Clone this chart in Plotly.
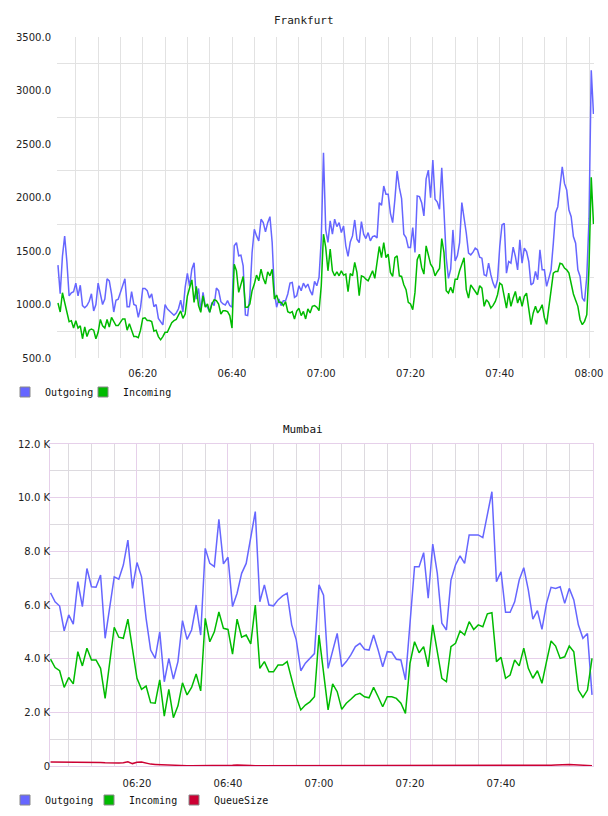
import plotly.graph_objects as go
import pandas as pd

# ---------------- data ----------------
DAY = "2013-05-01"

# Frankfurt, sampled every 30 s from 06:01:00
FRA_OUTGOING = [
    1368, 1100, 1450, 1640, 1400, 1080, 1110, 1120, 1200, 1080,
    1180, 990, 970, 990, 1030, 1100, 940, 1000, 1200, 1110,
    1000, 1050, 1240, 1220, 1100, 930, 1040, 1050, 1120, 1180,
    1240, 980, 980, 1120, 1000, 990, 880, 970, 1150, 1150,
    1130, 1060, 1100, 980, 1000, 870, 840, 810, 1000, 960,
    940, 920, 900, 920, 960, 1040, 930, 1160, 1290, 1170,
    1330, 1390, 1050, 1150, 942, 1113, 990, 975, 927, 1020,
    990, 1154, 1129, 1026, 1005, 995, 1036, 990, 975, 1548,
    1579, 1455, 1461, 1362, 902, 896, 1082, 1486, 1703, 1641,
    1595, 1797, 1765, 1678, 1765, 1821, 1579, 1113, 975, 1051,
    990, 1036, 1036, 1098, 1200, 1206, 1067, 1082, 1175, 1129,
    1200, 1160, 1191, 1129, 1088, 1216, 1175, 1253, 1610, 2418,
    1700, 1580, 1781, 1657, 1797, 1728, 1765, 1672, 1734, 1548,
    1449, 1585, 1641, 1790, 1610, 1579, 1775, 1657, 1616, 1672,
    1595, 1635, 1641, 1623, 1952, 1927, 2107, 2030, 2030, 1852,
    1765, 1983, 2247, 2092, 1989, 1657, 1626, 1533, 1533, 1719,
    1486, 2014, 2008, 1952, 1828, 2175, 2256, 1998, 2350, 1983,
    1958, 1890, 2278, 1874, 1439, 1244, 1330, 1697, 1408, 1455,
    1579, 1952, 1820, 1666, 1480, 1464, 1489, 1526, 1511, 1442,
    1433, 1278, 1268, 1386, 1278, 1200, 1153, 1231, 1542, 1743,
    1759, 1293, 1402, 1386, 1536, 1449, 1324, 1604, 1386, 1526,
    1495, 1402, 1184, 1200, 1309, 1231, 1511, 1324, 1324, 1169,
    1247, 1324, 1573, 1858, 1914, 2132, 2287, 2132, 2070, 1883,
    1821, 1635, 1573, 1324, 1262, 1060, 1029, 1262, 1800, 3190,
    2780,
]
FRA_INCOMING = [
    1014, 930, 1110, 1020, 900, 840, 849, 780, 849, 780,
    800, 680, 790, 700, 760, 770, 760, 680, 740, 860,
    800, 780, 860, 790, 880, 840, 803, 803, 834, 865,
    865, 760, 820, 760, 700, 700, 690, 760, 870, 875,
    850, 850, 840, 750, 760, 700, 670, 700, 740, 740,
    780, 830, 849, 860, 900, 940, 870, 910, 1080, 1170,
    1230, 1020, 1169, 990, 927, 1082, 975, 1005, 927, 1005,
    1045, 1036, 1005, 911, 942, 942, 933, 896, 780, 1377,
    1315, 1113, 1191, 1262, 975, 975, 1005, 1129, 1191, 1275,
    1222, 1330, 1244, 1191, 1306, 1268, 1330, 1051, 1088, 1020,
    1020, 990, 1026, 933, 921, 933, 865, 939, 964, 896,
    936, 865, 958, 921, 983, 990, 975, 942, 1175, 1657,
    1533, 1315, 1517, 1315, 1268, 1306, 1268, 1315, 1275, 1284,
    1119, 1290, 1268, 1393, 1300, 1082, 1268, 1259, 1237, 1222,
    1268, 1315, 1244, 1377, 1542, 1439, 1579, 1439, 1470, 1300,
    1262, 1439, 1455, 1268, 1262, 1185, 1138, 1020, 1005, 952,
    1113, 1418, 1470, 1346, 1284, 1548, 1470, 1377, 1346, 1268,
    1306, 1337, 1616, 1486, 1129, 1107, 1160, 1107, 1237, 1237,
    1315, 1368, 1436, 1138, 1060, 1184, 1153, 1116, 1091, 1175,
    1153, 983, 1045, 1020, 967, 992, 1029, 1091, 1200, 1184,
    1060, 967, 1107, 983, 1060, 1122, 1014, 1076, 983, 1076,
    1107, 936, 812, 921, 983, 921, 952, 998, 877, 815,
    967, 1107, 1293, 1309, 1309, 1386, 1377, 1340, 1324, 1293,
    1200, 1098, 1039, 983, 858, 812, 843, 905, 1355, 2190,
    1753,
]

# Mumbai, one value per minute from 06:01, in thousands
MUM_OUTGOING_K = [
    6.45, 6.12, 5.96, 5.04, 5.63, 5.29, 6.87, 5.94, 7.36, 6.68,
    6.66, 7.12, 4.76, 5.90, 7.05, 6.96, 7.49, 8.42, 6.62, 7.58,
    7.05, 5.50, 4.32, 4.01, 5.00, 3.14, 4.01, 3.24, 3.89, 5.42,
    4.72, 5.07, 6.00, 4.88, 8.11, 7.55, 7.43, 9.19, 7.53, 7.78,
    5.94, 6.44, 7.18, 7.55, 8.49, 9.48, 6.12, 6.75, 6.00, 5.97,
    6.19, 6.34, 6.44, 5.26, 4.70, 3.55, 3.83, 4.01, 4.19, 6.75,
    6.37, 3.64, 4.32, 4.94, 3.70, 3.89, 4.14, 4.45, 4.57, 4.35,
    4.32, 4.88, 4.32, 3.70, 4.26, 4.24, 3.98, 3.95, 3.21, 5.40,
    7.43, 7.43, 7.95, 6.25, 8.27, 7.18, 5.32, 5.07, 6.93, 7.49,
    7.83, 7.55, 8.61, 8.61, 8.61, 8.51, 9.36, 10.22, 6.87, 7.24,
    5.73, 5.73, 6.12, 6.93, 7.39, 6.56, 5.47, 5.79, 5.09, 6.06,
    6.66, 6.62, 6.68, 6.06, 6.62, 6.19, 5.26, 4.76, 4.94, 2.65,
]
MUM_INCOMING_K = [
    3.98, 3.67, 3.55, 2.93, 3.30, 3.06, 4.26, 3.73, 4.39, 3.95,
    3.95, 3.64, 2.52, 3.76, 5.17, 4.80, 4.76, 5.47, 4.35, 3.27,
    2.86, 2.98, 2.36, 2.34, 3.21, 1.86, 2.86, 1.80, 2.24, 3.10,
    2.65, 2.93, 3.43, 2.80, 5.50, 4.63, 5.00, 5.74, 5.13, 5.09,
    4.17, 5.47, 4.80, 4.88, 4.55, 6.00, 3.64, 3.89, 3.51, 3.51,
    3.76, 3.76, 3.89, 3.27, 2.58, 2.09, 2.27, 2.39, 2.58, 4.88,
    3.51, 2.09, 3.06, 2.77, 2.11, 2.34, 2.49, 2.65, 2.71, 2.58,
    2.54, 2.93, 2.58, 2.21, 2.58, 2.58, 2.52, 2.34, 1.96, 3.83,
    4.63, 4.22, 4.45, 3.70, 5.26, 4.26, 3.27, 3.14, 4.45, 4.57,
    5.03, 4.88, 5.38, 5.09, 5.26, 5.19, 5.67, 5.71, 3.89, 4.05,
    3.27, 3.39, 3.95, 3.73, 4.39, 3.64, 3.27, 3.55, 3.08, 3.89,
    4.66, 4.47, 4.01, 4.07, 4.47, 4.26, 2.83, 2.56, 2.83, 4.01,
]
MUM_QUEUE_K = [
    0.15, 0.15, 0.14, 0.14, 0.14, 0.13, 0.13, 0.13, 0.14, 0.14,
    0.13, 0.13, 0.12, 0.11, 0.11, 0.11, 0.12, 0.16, 0.09, 0.14,
    0.15, 0.10, 0.07, 0.06, 0.05, 0.05, 0.04, 0.04, 0.03, 0.02,
    0.01, 0.01, 0.01, 0.01, 0.01, 0.01, 0.01, 0.01, 0.01, 0.01,
    0.03, 0.04, 0.04, 0.03, 0.02, 0.01, 0.01, 0.01, 0.01, 0.01,
    0.01, 0.01, 0.01, 0.01, 0.01, 0.01, 0.01, 0.01, 0.01, 0.02,
    0.02, 0.01, 0.02, 0.01, 0.01, 0.01, 0.01, 0.01, 0.01, 0.01,
    0.01, 0.01, 0.01, 0.01, 0.01, 0.01, 0.01, 0.01, 0.01, 0.01,
    0.01, 0.01, 0.01, 0.01, 0.01, 0.01, 0.01, 0.01, 0.01, 0.01,
    0.02, 0.03, 0.03, 0.02, 0.02, 0.01, 0.02, 0.02, 0.01, 0.01,
    0.01, 0.01, 0.01, 0.01, 0.01, 0.01, 0.01, 0.01, 0.01, 0.01,
    0.03, 0.04, 0.05, 0.05, 0.06, 0.05, 0.04, 0.03, 0.01, 0.01,
]

X_TICK_TIMES = ["06:20", "06:40", "07:00", "07:20", "07:40", "08:00"]
FRA_Y_TICKS = [500, 1000, 1500, 2000, 2500, 3000, 3500]
MUM_Y_TICKS = [0, 2000, 4000, 6000, 8000, 10000, 12000]
MUM_Y_LABELS = ["0", "2.0 K", "4.0 K", "6.0 K", "8.0 K", "10.0 K", "12.0 K"]

# ---------------- build ----------------
W, H = 608, 816
C_OUT, C_IN, C_Q = "#6666FF", "#00BB00", "#CC0033"
MONO = "DejaVu Sans Mono"
SANS = "DejaVu Sans"


def px_x(p):
    return p / W


def px_y(p):
    return 1 - p / H


fra_t = pd.date_range(f"{DAY} 06:01:00", periods=len(FRA_OUTGOING), freq="30s")
mum_t = pd.date_range(f"{DAY} 06:01:00", periods=len(MUM_OUTGOING_K), freq="60s")
tickvals = [f"{DAY} {t}:00" for t in X_TICK_TIMES]

fig = go.Figure()

fig.add_trace(go.Scatter(x=fra_t, y=FRA_OUTGOING, mode="lines", line=dict(color=C_OUT, width=1.5),
                         showlegend=False, xaxis="x", yaxis="y"))
fig.add_trace(go.Scatter(x=fra_t, y=FRA_INCOMING, mode="lines", line=dict(color=C_IN, width=1.5),
                         showlegend=False, xaxis="x", yaxis="y"))

fig.add_trace(go.Scatter(x=mum_t, y=[v * 1000 for v in MUM_OUTGOING_K], mode="lines",
                         line=dict(color=C_OUT, width=1.5), showlegend=False, xaxis="x2", yaxis="y2"))
fig.add_trace(go.Scatter(x=mum_t, y=[v * 1000 for v in MUM_INCOMING_K], mode="lines",
                         line=dict(color=C_IN, width=1.5), showlegend=False, xaxis="x2", yaxis="y2"))
fig.add_trace(go.Scatter(x=mum_t, y=[v * 1000 for v in MUM_QUEUE_K], mode="lines",
                         line=dict(color=C_Q, width=1.5), showlegend=False, xaxis="x2", yaxis="y2"))

# legend swatches (square markers); one small legend per entry so each sits where the original does
LEGEND_ITEMS = [
    # name, colour, legend id, axes, left px, centre-y px
    ("Outgoing", C_OUT, "legend", ("x", "y"), 5, 392),
    ("Incoming", C_IN, "legend2", ("x", "y"), 83, 392),
    ("Outgoing", C_OUT, "legend3", ("x2", "y2"), 5, 800),
    ("Incoming", C_IN, "legend4", ("x2", "y2"), 89, 800),
    ("QueueSize", C_Q, "legend5", ("x2", "y2"), 174, 800),
]
legend_layouts = {}
for name, col, lg, ax, lx, ly in LEGEND_ITEMS:
    fig.add_trace(go.Scatter(x=[None], y=[None], mode="markers", name=name,
                             marker=dict(symbol="square", size=10, color=col,
                                         line=dict(color="#888888", width=1)),
                             legend=lg, xaxis=ax[0], yaxis=ax[1]))
    legend_layouts[lg] = dict(orientation="h", x=px_x(lx), xanchor="left", y=px_y(ly),
                              yanchor="middle", font=dict(family=MONO, size=10, color="#111111"),
                              bgcolor="rgba(0,0,0,0)", itemclick=False, itemdoubleclick=False)

TOP_GRID = "#E2E2E2"
PURPLE = "#E6D0EA"
GRAY = "#DDDADF"
tickfont = dict(family=SANS, size=10, color="#222222")

fig.update_layout(
    width=W, height=H,
    margin=dict(l=0, r=0, t=0, b=0, autoexpand=False),
    paper_bgcolor="white", plot_bgcolor="white",
    xaxis=dict(
        domain=[px_x(57), px_x(594)], anchor="y", type="date",
        range=[f"{DAY} 06:00:47", f"{DAY} 08:01:07"],
        tickmode="array", tickvals=tickvals, ticktext=X_TICK_TIMES,
        showgrid=True, gridcolor=TOP_GRID, gridwidth=1,
        minor=dict(dtick=300000, tick0=f"{DAY} 06:00:00", showgrid=True, gridcolor=TOP_GRID),
        showline=False, zeroline=False, ticks="", tickfont=tickfont, ticklabelstandoff=8,
    ),
    yaxis=dict(
        domain=[px_y(358), px_y(37)], anchor="x",
        range=[500, 3500], tickmode="array", tickvals=FRA_Y_TICKS,
        ticktext=[f"{v:.1f}" for v in FRA_Y_TICKS],
        showgrid=False,
        minor=dict(tickmode="linear", tick0=750, dtick=500, showgrid=True, gridcolor=TOP_GRID),
        showline=False, zeroline=False, ticks="", tickfont=tickfont, ticklabelstandoff=5,
    ),
    xaxis2=dict(
        domain=[px_x(50), px_x(593)], anchor="y2", type="date",
        range=[f"{DAY} 06:00:53", f"{DAY} 08:00:13"],
        tickmode="array", tickvals=tickvals[:-1], ticktext=X_TICK_TIMES[:-1],
        showgrid=True, gridcolor=PURPLE, gridwidth=1,
        minor=dict(dtick=300000, tick0=f"{DAY} 06:00:00", showgrid=True, gridcolor=GRAY),
        showline=True, linecolor=PURPLE, mirror=True, zeroline=False, ticks="",
        tickfont=tickfont, ticklabelstandoff=8,
    ),
    yaxis2=dict(
        domain=[px_y(766), px_y(444)], anchor="x2",
        range=[0, 12000], tickmode="array", tickvals=MUM_Y_TICKS, ticktext=MUM_Y_LABELS,
        showgrid=True, gridcolor=PURPLE,
        minor=dict(tickmode="linear", tick0=0, dtick=1000, showgrid=True, gridcolor=GRAY),
        showline=True, linecolor=PURPLE, mirror=True, zeroline=False, ticks="",
        tickfont=tickfont, ticklabelstandoff=-3,
    ),
    annotations=[
        dict(text="Frankfurt", x=px_x(304), y=px_y(20), xref="paper", yref="paper",
             xanchor="center", yanchor="middle",
             showarrow=False, font=dict(family=MONO, size=11, color="#222222")),
        dict(text="Mumbai", x=px_x(303), y=px_y(429), xref="paper", yref="paper",
             xanchor="center", yanchor="middle",
             showarrow=False, font=dict(family=MONO, size=11, color="#111111")),
    ],
    **legend_layouts,
)

fig.write_html("out.html")
